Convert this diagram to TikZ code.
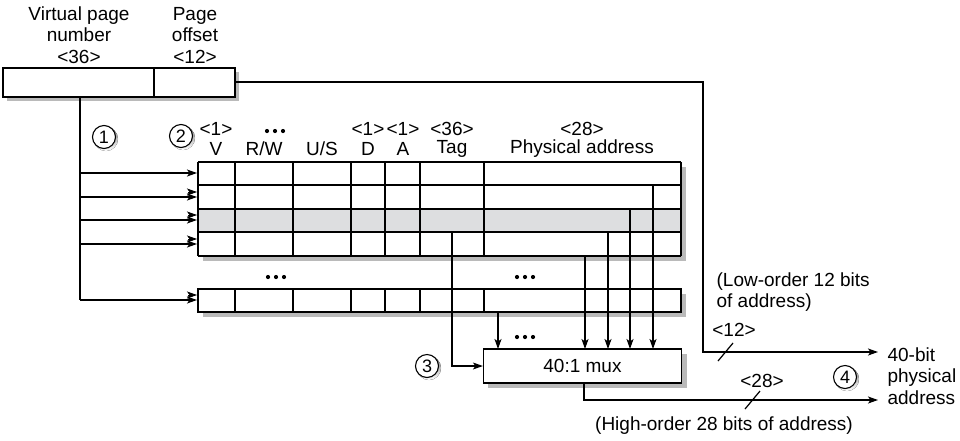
\documentclass[tikz,border=0pt]{standalone}
\usepackage{fontspec}
\setmainfont{Liberation Sans}
\usetikzlibrary{arrows.meta,calc}
\definecolor{shade}{RGB}{186,186,186}
\definecolor{rowgray}{RGB}{221,222,224}
\begin{document}
\begin{tikzpicture}[x=1pt,y=-1pt,line width=1.2pt,
  txt/.style={font=\fontsize{19}{21.5}\selectfont, inner sep=0pt, align=center},
  arr/.style={-{Stealth[length=10pt,width=7pt,inset=2.5pt]}},
  circnum/.style={circle, draw, line width=1.1pt, minimum size=23pt, inner sep=0pt, fill=white, font=\fontsize{18}{18}\selectfont},
  shadowbox/.style={fill=shade, draw=none},
  dot/.style={fill=black, draw=none}]
\useasboundingbox (0,0) rectangle (960,440);

% ---------- virtual address box ----------
\fill[shadowbox] (7,72) rectangle (239,101);
\draw[fill=white] (3,68) rectangle (235,97);
\draw (154,68) -- (154,97);
\coordinate (vpn) at (80,97);
\coordinate (off) at (235,82);
\node[txt] at (79,35) {Virtual page\\number\\{<}36{>}};
\node[txt] at (195,35) {Page\\offset\\{<}12{>}};

% ---------- TLB table ----------
\fill[shadowbox] (203,167) rectangle (686,261);
\fill[white] (198,162) rectangle (681,256);
\fill[rowgray] (198,209) rectangle (681,232);
\foreach \y in {162,185,209,232,256} \draw (198,\y) -- (681,\y);
\foreach \x in {198,235,293,351,385,420,484,681} \draw (\x,162) -- (\x,256);

% last row
\fill[shadowbox] (203,294) rectangle (686,317);
\draw[fill=white] (198,289) rectangle (681,312);
\foreach \x in {235,293,351,385,420,484} \draw (\x,289) -- (\x,312);

% column headings
\node[txt] at (216,129) {{<}1{>}};
\node[txt] at (216,149) {V};
\foreach \dx in {-8,0,8} \fill[dot] (275+\dx,131) circle (2.1);
\node[txt] at (264,149) {R/W};
\node[txt] at (322,149) {U/S};
\node[txt] at (368,129) {{<}1{>}};
\node[txt] at (368,149) {D};
\node[txt] at (403,129) {{<}1{>}};
\node[txt] at (403,149) {A};
\node[txt] at (452,129) {{<}36{>}};
\node[txt] at (452,149) {Tag};
\node[txt] at (582,129) {{<}28{>}};
\node[txt] at (582,149) {Physical address};

% dots
\foreach \cx/\cy in {276/277, 525/277, 525/337}
  \foreach \dx in {-8,0,8} \fill[dot] (\cx+\dx,\cy) circle (2.1);

% ---------- mux ----------
\fill[shadowbox] (488,354) rectangle (687,388);
\node[draw, fill=white, minimum width=198pt, minimum height=34pt, inner sep=0pt,
      font=\fontsize{19}{19}\selectfont] (mux) at (582.5,366) {40:1 mux};

% ---------- circled numbers ----------
\foreach \n/\px/\py in {1/104/137, 2/181/136, 3/427/366, 4/845/377} {
  \fill[shade] (\px+2,\py+2) circle (12);
  \node[circnum] (c\n) at (\px,\py) {\n};
}

% ---------- connectors ----------
\coordinate (pa) at (878,352);
\coordinate (pb) at (878,400);
\draw[arr] (off) -| (703,352) -- (pa);
\draw (vpn) -- (80,300);
\foreach \y in {173,197,220,244,300}
  \draw[arr] (80,\y) -- (197,\y);
\foreach \y in {197,220,244,300}
  \draw[arr, line width=0.8pt] (188,\y-5) -- (197,\y-5);

\draw[arr] (452,232) |- (mux.west);
\foreach \x/\y in {585/256, 608/232, 630/209, 653/185}
  \draw[arr] (\x,\y) -- (\x,349);
\draw[arr] (498,312) -- (498,349);
\draw[arr] (584,383) |- (pb);

% slashes
\draw (718,361) -- (733,343);
\draw (745,409) -- (760,391);

% ---------- labels ----------
\node[txt] at (734,330) {{<}12{>}};
\node[txt] at (762,381) {{<}28{>}};
\node[txt, align=left, anchor=west] at (716,292) {(Low-order 12 bits\\of address)};
\node[txt, align=left, anchor=west] at (887,376) {40-bit\\physical\\address};
\node[txt] at (724,426) {(High-order 28 bits of address)};
\end{tikzpicture}
\end{document}
